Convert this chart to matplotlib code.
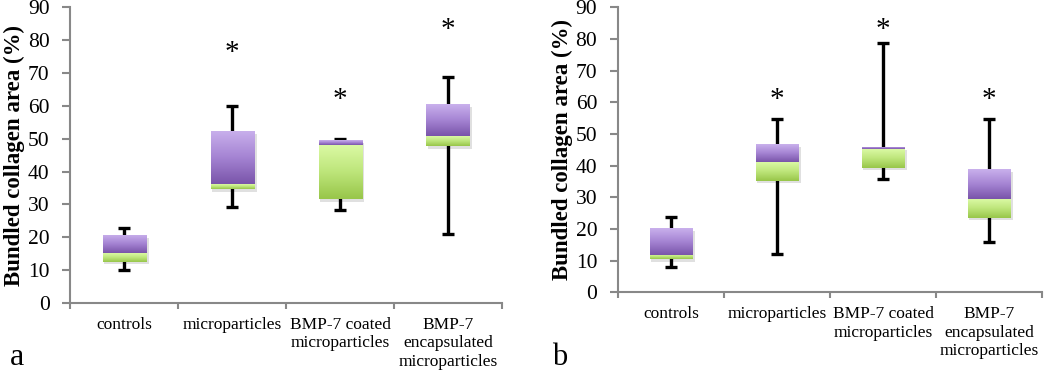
import numpy as np
import matplotlib.pyplot as plt
from matplotlib.colors import LinearSegmentedColormap

plt.rcParams['font.family'] = ['Liberation Serif', 'DejaVu Serif']

groups = ['controls', 'microparticles', 'BMP-7 coated\nmicroparticles',
          'BMP-7\nencapsulated\nmicroparticles']

# painel a: minimo, Q1, mediana, Q3, maximo
a_low = [10.0, 29.1, 28.4, 21.1]
a_q1 = [12.6, 34.7, 31.7, 47.8]
a_med = [15.1, 36.1, 48.1, 50.8]
a_q3 = [20.6, 52.4, 49.5, 60.5]
a_high = [22.8, 59.9, 49.9, 68.9]
a_star = [None, 77.0, 62.8, 83.9]

# painel b
b_low = [7.9, 12.2, 35.9, 15.9]
b_q1 = [10.5, 35.3, 39.4, 23.6]
b_med = [11.8, 41.3, 45.2, 29.4]
b_q3 = [20.2, 46.7, 45.9, 38.8]
b_high = [23.8, 54.7, 78.8, 54.9]
b_star = [None, 61.8, 83.7, 61.8]

roxo = LinearSegmentedColormap.from_list('roxo', ['#7a55aa', '#a584d3', '#c9b0ec'])
verde = LinearSegmentedColormap.from_list('verde', ['#98c64a', '#bde57a', '#daf9a3'])


def barra_gradiente(ax, x, base, topo, cmap, largura=0.4):
    """Retangulo com preenchimento em degradê vertical"""
    ret = ax.bar(x, topo - base, bottom=base, width=largura,
                 color='none', edgecolor='none', zorder=3)[0]
    grad = np.linspace(0, 1, 64).reshape(-1, 1)
    im = ax.imshow(grad, cmap=cmap, aspect='auto', origin='lower',
                   extent=(x - largura / 2, x + largura / 2, base, topo),
                   zorder=3, interpolation='bilinear')
    im.set_clip_path(ret)


def plotar_painel(ax, low, q1, med, q3, high, star):
    x = np.arange(len(groups))
    for i in x:
        # sombra leve
        ax.bar(i + 0.02, q3[i] - q1[i], bottom=q1[i] - 0.8, width=0.41,
               color='#000000', alpha=0.12, edgecolor='none', zorder=2)
        ax.vlines(i, low[i], high[i], color='black', lw=2.4, zorder=1)
        ax.hlines([low[i], high[i]], i - 0.055, i + 0.055, color='black', lw=2.4, zorder=1)
        barra_gradiente(ax, i, q1[i], med[i], verde)
        barra_gradiente(ax, i, med[i], q3[i], roxo)
        if star[i] is not None:
            ax.annotate('*', (i, star[i]), xytext=(0, -3), textcoords='offset pixels',
                        ha='center', va='center', fontsize=21)

    ax.set_xlim(-0.5, 3.5)
    ax.set_ylim(0, 90)
    ax.set_yticks(range(0, 91, 10))
    ax.tick_params(axis='y', labelsize=15.5, length=6, width=1.5, color='#888888', pad=9)
    ax.set_xticks([-0.5, 0.5, 1.5, 2.5, 3.5])
    ax.set_xticklabels([])
    ax.tick_params(axis='x', length=4, width=1.5, color='#888888')
    ax.set_xticks(x, minor=True)
    ax.set_xticklabels(groups, minor=True, fontsize=12.5, linespacing=1.2)
    ax.tick_params(axis='x', which='minor', length=0, pad=10)
    for lado in ['top', 'right']:
        ax.spines[lado].set_visible(False)
    for lado in ['left', 'bottom']:
        ax.spines[lado].set_color('#888888')
        ax.spines[lado].set_linewidth(1.5)
    ax.set_ylabel('Bundled collagen area (%)', fontsize=16.5, fontweight='bold', labelpad=2)


fig = plt.figure(figsize=(10.5, 3.7), dpi=100)
ax_a = fig.add_axes([0.0671, 0.181, 0.411, 0.799])
ax_b = fig.add_axes([0.5886, 0.210, 0.4038, 0.770])

plotar_painel(ax_a, a_low, a_q1, a_med, a_q3, a_high, a_star)
plotar_painel(ax_b, b_low, b_q1, b_med, b_q3, b_high, b_star)

fig.text(0.009, 0.014, 'a', fontsize=23, va='baseline')
fig.text(0.526, 0.014, 'b', fontsize=22, va='baseline')

fig.savefig('out.png', dpi=100)
